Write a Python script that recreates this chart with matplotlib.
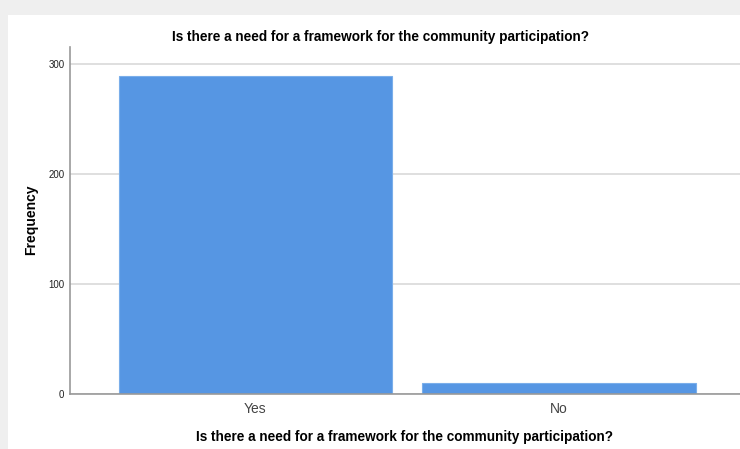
import matplotlib
matplotlib.use('Agg')
import matplotlib.pyplot as plt
from matplotlib.patches import Rectangle

plt.rcParams['font.family'] = ['Liberation Sans', 'DejaVu Sans']

categories = ['Yes', 'No']
counts = [289, 10]
yticks = [0, 100, 200, 300]
title = 'Is there a need for a framework for the community participation?'

fig = plt.figure(figsize=(7.4, 4.49), dpi=100)
fig.patch.set_facecolor('#efefef')
# white panel like the SPSS output viewer
fig.add_artist(Rectangle((8 / 740, 0), 1, (449 - 15) / 449,
                         transform=fig.transFigure, facecolor='white',
                         edgecolor='none', zorder=0))

ax = fig.add_axes([70 / 740, (449 - 394) / 449, 670 / 740, (394 - 47) / 449])
ax.set_facecolor('white')
ax.set_zorder(1)

x = range(len(categories))
ax.bar(x, counts, width=0.9, color='#5696e3', edgecolor='#7aaeea',
       linewidth=0.8, zorder=2)

ax.set_xlim(-0.61, 1.595)
ax.set_ylim(0, 315.5)
ax.set_yticks(yticks)
ax.set_xticks(list(x))
ax.set_xticklabels(categories)
ax.yaxis.grid(True, color='#d9d9d9', linewidth=1.2, zorder=0)
ax.set_axisbelow(True)

ax.tick_params(axis='y', length=0, labelsize=7, pad=4, labelcolor='#222222')
ax.tick_params(axis='x', length=0, labelsize=10, pad=6, labelcolor='#444444')
for s in ['top', 'right']:
    ax.spines[s].set_visible(False)
for s in ['left', 'bottom']:
    ax.spines[s].set_color('#999999')
    ax.spines[s].set_linewidth(1.2)

fig.text(380 / 740, 1 - 37 / 449, title, ha='center', va='center',
         fontsize=9.8, fontweight='bold')
ax.set_xlabel(title, fontsize=9.8, fontweight='bold', labelpad=10)
fig.text(31 / 740, 1 - 220 / 449, 'Frequency', rotation=90, ha='center',
         va='center', fontsize=10, fontweight='bold')

fig.savefig('out.png', dpi=100, facecolor=fig.get_facecolor())
